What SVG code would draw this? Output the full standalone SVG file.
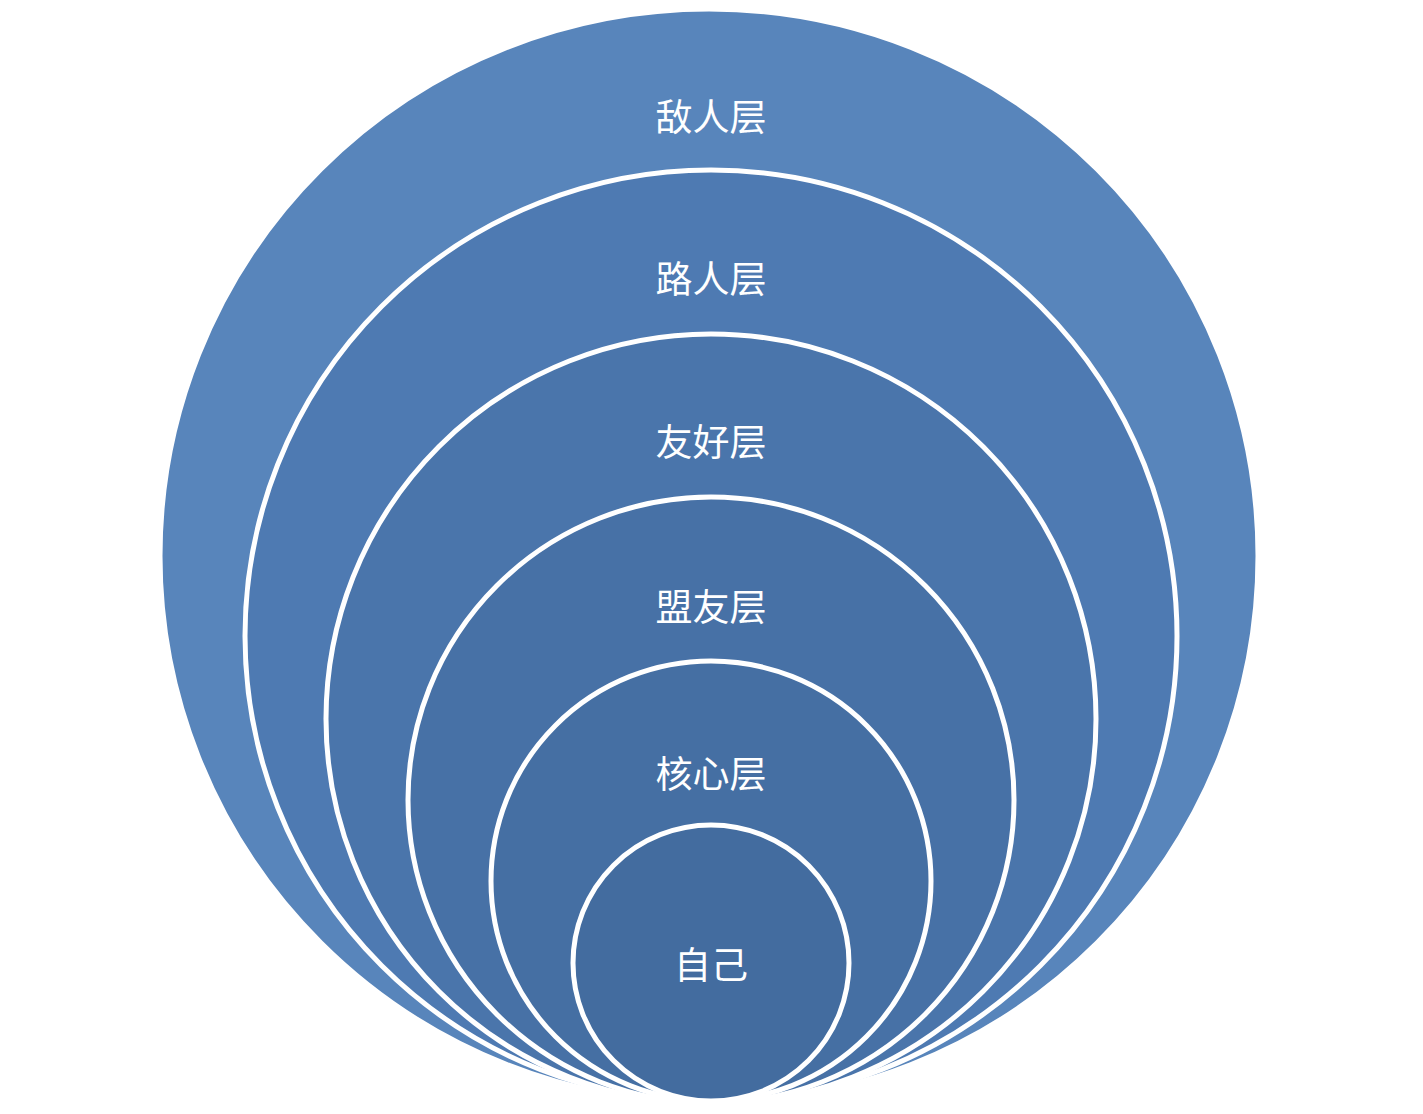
<svg xmlns="http://www.w3.org/2000/svg" width="1423" height="1114" viewBox="0 0 1423 1114">
<style>
.c{stroke:#fff;stroke-width:5}
.t{fill:#fff;font-family:"Noto Sans CJK SC",sans-serif;font-size:37px;text-anchor:middle;dominant-baseline:central}
</style>
<rect width="1423" height="1114" fill="#fff"/>
<g id="n1"><ellipse class="c" cx="709" cy="556" rx="549" ry="547" fill="#5885BB" stroke="#e8eef6" stroke-width="3"/><text class="t" x="711" y="115">敌人层</text></g>
<g id="n2"><circle class="c" cx="711" cy="636" r="466" fill="#4E7AB2"/><text class="t" x="711" y="277">路人层</text></g>
<g id="n3"><circle class="c" cx="711" cy="719" r="385" fill="#4A75AB"/><text class="t" x="711" y="440">友好层</text></g>
<g id="n4"><circle class="c" cx="711" cy="800" r="303" fill="#4771A6"/><text class="t" x="711" y="605">盟友层</text></g>
<g id="n5"><circle class="c" cx="711" cy="881" r="220" fill="#456FA3"/><text class="t" x="711" y="772">核心层</text></g>
<g id="n6"><circle class="c" cx="711" cy="963" r="138" fill="#436C9F"/><text class="t" x="711" y="963">自己</text></g>
<g id="connectors"/>
</svg>
